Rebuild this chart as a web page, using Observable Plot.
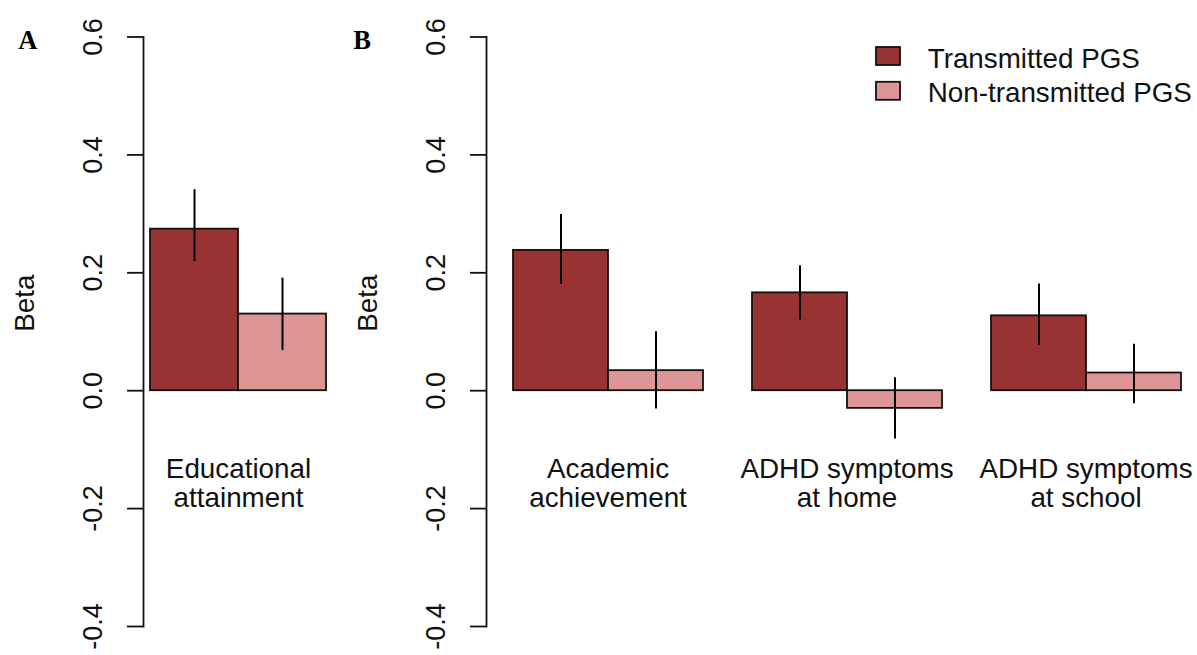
<!DOCTYPE html>
<html><head><meta charset="utf-8">
<script src="https://cdn.jsdelivr.net/npm/d3@7"></script>
<script src="https://cdn.jsdelivr.net/npm/@observablehq/plot@0.6"></script>
<style>
html,body{margin:0;padding:0;background:#fff;overflow:hidden}
#wrap{position:relative;width:1197px;height:655px;overflow:hidden;background:#fff}
#wrap > svg{position:absolute;top:0}
</style></head><body><div id="wrap"></div>
<script>
// ---- data ----
const panelACategories = ["Educational attainment"];
const panelALabels = ["Educational\nattainment"];
const panelBCategories = ["Academic achievement", "ADHD symptoms at home", "ADHD symptoms at school"];
const panelBLabels = ["Academic\nachievement", "ADHD symptoms\nat home", "ADHD symptoms\nat school"];
const allCategories = panelACategories.concat(panelBCategories);
const series = ["Transmitted PGS", "Non-transmitted PGS"];
const seriesColors = ["#993233", "#DD9596"];
const transmittedBeta = [0.274, 0.238, 0.166, 0.127];
const transmittedLo = [0.219, 0.180, 0.120, 0.077];
const transmittedHi = [0.341, 0.299, 0.212, 0.181];
const nonTransmittedBeta = [0.130, 0.034, -0.030, 0.030];
const nonTransmittedLo = [0.068, -0.031, -0.082, -0.022];
const nonTransmittedHi = [0.191, 0.100, 0.022, 0.079];
const yTicks = [-0.4, -0.2, 0, 0.2, 0.4, 0.6];
const yDomain = [-0.4, 0.6];
const panelTags = ["A", "B"];

// ---- table ----
const rows = allCategories.flatMap((c, i) => [
  {category: c, series: series[0], beta: transmittedBeta[i], lo: transmittedLo[i], hi: transmittedHi[i]},
  {category: c, series: series[1], beta: nonTransmittedBeta[i], lo: nonTransmittedLo[i], hi: nonTransmittedHi[i]}
]);
const rowsA = rows.filter(r => panelACategories.includes(r.category));
const rowsB = rows.filter(r => panelBCategories.includes(r.category));
const labelRowsA = panelACategories.map((c, i) => ({category: c, label: panelALabels[i]}));
const labelRowsB = panelBCategories.map((c, i) => ({category: c, label: panelBLabels[i]}));

const font = "'Liberation Sans', Arial, sans-serif";
const ink = "#111";
const colorScale = {domain: series, range: seriesColors};
const fs = 27.8;

function axisMarks(extra = {}) {
  return [
    Plot.frame({anchor: "left", stroke: ink, strokeWidth: 1.8, ...extra}),
    Plot.axisY({ticks: yTicks, text: null, label: null, tickSize: 16, stroke: ink, strokeWidth: 1.8}),
    Plot.axisY({ticks: yTicks, label: null, tickSize: 0, tickPadding: 50.5, tickRotate: -90,
      textAnchor: "middle", lineAnchor: "middle", fontSize: 27, fill: ink,
      tickFormat: d => d.toFixed(1)}),
    Plot.text(["Beta"], {frameAnchor: "left", rotate: -90, dx: -118.3, lineAnchor: "middle",
      fontSize: fs, fill: ink, ...extra})
  ];
}

const plotA = Plot.plot({
  width: 340, height: 655,
  marginLeft: 143, marginRight: 7, marginTop: 36.5, marginBottom: 29,
  style: {fontFamily: font, fontSize: fs + "px", background: "transparent", color: ink},
  x: {domain: series, range: [149.5, 326.5], padding: 0, axis: null},
  y: {domain: yDomain},
  color: colorScale,
  marks: [
    ...axisMarks(),
    Plot.barY(rowsA, {x: "series", y: "beta", fill: "series", stroke: ink, strokeWidth: 1.8}),
    Plot.ruleX(rowsA, {x: "series", y1: "lo", y2: "hi", stroke: "#000", strokeWidth: 2}),
    Plot.text(labelRowsA, {text: "label", y: () => 0, lineAnchor: "top", dy: 66.5, lineHeight: 1.05,
      fontSize: fs, fill: ink})
  ]
});

const plotB = Plot.plot({
  width: 863, height: 655,
  marginLeft: 146, marginRight: 0, marginTop: 36.5, marginBottom: 29,
  style: {fontFamily: font, fontSize: fs + "px", background: "transparent", color: ink},
  fx: {domain: panelBCategories, padding: 0, axis: null, label: null},
  x: {domain: series, paddingInner: 0, paddingOuter: 0.2448, align: 0.553, axis: null},
  y: {domain: yDomain},
  color: colorScale,
  marks: [
    ...axisMarks({facet: "super"}),
    Plot.barY(rowsB, {fx: "category", x: "series", y: "beta", fill: "series", stroke: ink, strokeWidth: 1.8}),
    Plot.ruleX(rowsB, {fx: "category", x: "series", y1: "lo", y2: "hi", stroke: "#000", strokeWidth: 2}),
    Plot.text(labelRowsB, {fx: "category", text: "label", y: () => 0, lineAnchor: "top", dy: 66.5, dx: 2,
      lineHeight: 1.05, fontSize: fs, fill: ink})
  ]
});

const wrap = document.getElementById("wrap");
plotA.style.left = "0px";
plotB.style.left = "340px";
wrap.appendChild(plotA);
wrap.appendChild(plotB);

// ---- panel tags and legend (overlay) ----
const ns = "http://www.w3.org/2000/svg";
const over = document.createElementNS(ns, "svg");
over.setAttribute("width", 1197); over.setAttribute("height", 655);
over.style.left = "0px";
function addText(x, y, s, attrs) {
  const t = document.createElementNS(ns, "text");
  t.setAttribute("x", x); t.setAttribute("y", y); t.textContent = s;
  for (const k in attrs) t.setAttribute(k, attrs[k]);
  over.appendChild(t);
}
const tagStyle = {"font-family": "'Liberation Serif', 'Times New Roman', serif", "font-weight": "bold", "font-size": "26.5px", fill: "#000"};
addText(18.3, 49, panelTags[0], tagStyle);
addText(353.3, 49, panelTags[1], tagStyle);
series.forEach((s, i) => {
  const r = document.createElementNS(ns, "rect");
  r.setAttribute("x", 876); r.setAttribute("y", 47 + i * 34.8);
  r.setAttribute("width", 24); r.setAttribute("height", 18);
  r.setAttribute("fill", seriesColors[i]); r.setAttribute("stroke", ink); r.setAttribute("stroke-width", 1.8);
  over.appendChild(r);
  addText(927.7, 68 + i * 34.3, s, {"font-family": font, "font-size": fs + "px", fill: ink});
});
wrap.appendChild(over);
</script>
</body></html>
